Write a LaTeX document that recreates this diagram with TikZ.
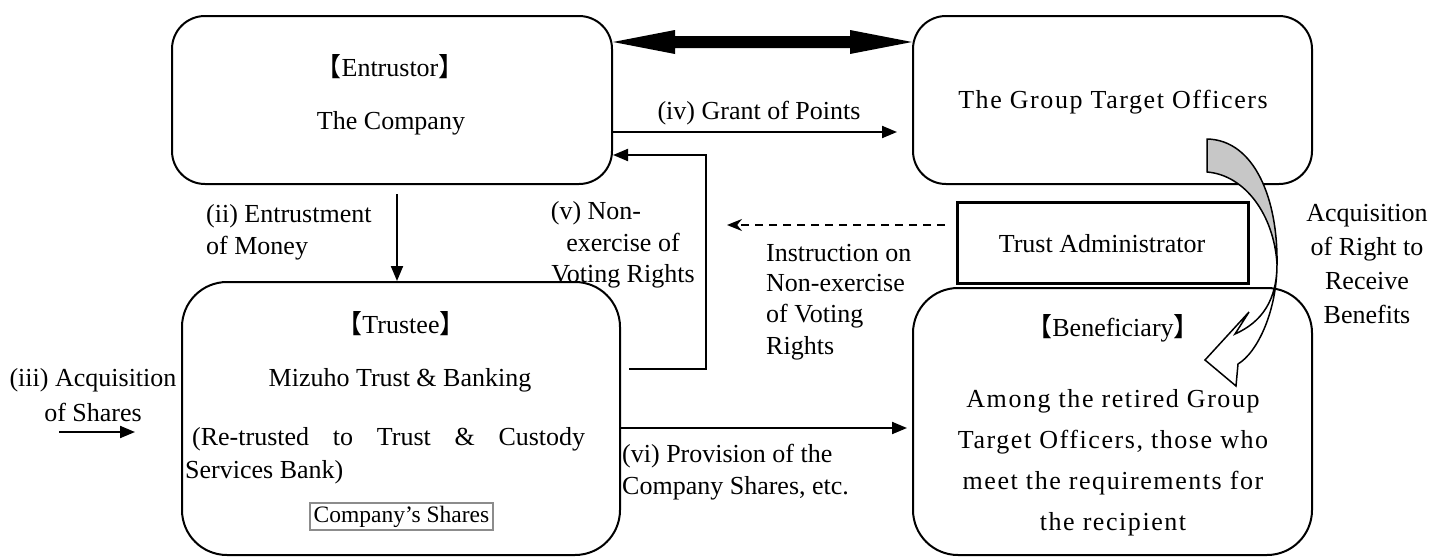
\documentclass[tikz,border=0pt]{standalone}
\usepackage{fontspec}
\setmainfont{Liberation Serif}
\newfontfamily\cjk{Noto Sans CJK JP}
\newfontfamily\spaced[LetterSpace=6]{Liberation Serif}
\usetikzlibrary{arrows.meta,calc}
\begin{document}
\begin{tikzpicture}[x=1pt,y=-1pt,
  font=\fontsize{26}{31}\selectfont,
  box/.style={draw, line width=2pt, rounded corners=33pt, inner sep=0pt},
  bigbox/.style={draw, line width=2pt, rounded corners=45pt, inner sep=0pt},
  arr/.style={line width=2pt, -{Triangle[length=15pt,width=12pt]}},
  dsh/.style={line width=2pt, dash pattern=on 8pt off 6pt, -{Stealth[length=15pt,width=12pt]}},
  lbl/.style={inner sep=0pt, anchor=base},
  lblw/.style={inner sep=0pt, anchor=base west}]
\useasboundingbox (0,0) rectangle (1432,557);

% boxes
\node[box, minimum width=440pt, minimum height=168pt] (ent) at (392,100) {};
\node[box, minimum width=399pt, minimum height=168pt] (grp) at (1112.5,100) {};
\node[bigbox, minimum width=438pt, minimum height=273pt] (tru) at (401,418.5) {};
\node[bigbox, minimum width=399pt, minimum height=267pt] (ben) at (1112.5,421.5) {};
\node[draw, line width=3pt, minimum width=291pt, minimum height=81pt, inner sep=0pt] (adm) at (1102.5,242.5) {};
\node[draw=black!45, line width=1.3pt, fill=white, minimum width=183pt, minimum height=27pt, inner sep=0pt] (shr) at (401.5,516.5) {};

% texts in boxes
\node[lbl] (t1) at (390,76) {{\cjk 【}Entrustor{\cjk 】}};
\node[lbl] (t2) at (391,129) {The Company};
\node[lbl] (t3) at (1113,108) {\spaced The Group Target Officers};
\node[lbl] (t4) at (1102,252) {Trust Administrator};
\node[lbl] (t5) at (401,333) {{\cjk 【}Trustee{\cjk 】}};
\node[lbl] (t6) at (400,386) {Mizuho Trust \& Banking};
\node[lblw] (t7) at (183,445) {\makebox[402pt][s]{\hspace*{9pt}(Re-trusted to Trust \& Custody}};
\node[lblw] (t8) at (185,478) {Services Bank)};
\node[lbl, font=\fontsize{23.5}{28}\selectfont] (t9) at (shr.center) [anchor=center] {Company’s Shares};
\node[lbl] (t10) at (1113,336) {{\cjk 【}Beneficiary{\cjk 】}};
\node[lbl] (t11) at (1113,407) {\spaced Among the retired Group};
\node[lbl] (t12) at (1113,448) {\spaced Target Officers, those who};
\node[lbl] (t13) at (1113,489) {\spaced meet the requirements for};
\node[lbl] (t14) at (1113,530) {\spaced the recipient};

% connector labels
\node[lbl] (l1) at (759,119) {(iv) Grant of Points};
\node[lblw] (l2) at (206,222) {(ii) Entrustment};
\node[lblw] (l3) at (206,254) {of Money};
\node[lbl] (l4) at (596,219) {(v) Non-};
\node[lbl] (l5) at (623,251) {exercise of};
\node[lbl] (l6) at (623,282) {Voting Rights};
\node[lblw] (l7) at (766,261) {Instruction on};
\node[lblw] (l8) at (766,291) {Non-exercise};
\node[lblw] (l9) at (766,322) {of Voting};
\node[lblw] (l10) at (766,354) {Rights};
\node[lbl] (l11) at (1367,221) {Acquisition};
\node[lbl] (l12) at (1367,255) {of Right to};
\node[lbl] (l13) at (1367,289) {Receive};
\node[lbl] (l14) at (1367,323) {Benefits};
\node[lbl] (l15) at (93,386) {(iii) Acquisition};
\node[lbl] (l16) at (93,421) {of Shares};
\node[lblw] (l17) at (622,462) {(vi) Provision of the};
\node[lblw] (l18) at (622,494) {Company Shares, etc.};

% double arrow
\coordinate (dl) at ($(ent.north east)+(0,27)$);
\coordinate (dr) at ($(grp.north west)+(0,27)$);
\fill (dl) -- ($(dl)+(62,-12)$) -- ($(dl)+(62,-6)$) -- ($(dr)+(-62,-6)$) -- ($(dr)+(-62,-12)$) -- (dr)
  -- ($(dr)+(-62,12)$) -- ($(dr)+(-62,6)$) -- ($(dl)+(62,6)$) -- ($(dl)+(62,12)$) -- cycle;

% (iv)
\coordinate (ivS) at ($(ent.north east)+(0,117)$);
\coordinate (ivE) at ($(grp.north west)+(-15,117)$);
\draw[arr] (ivS) -- (ivE);

% (ii)
\coordinate (iiS) at (397,194);
\draw[arr] (iiS) -- (iiS |- tru.north);

% (v)
\coordinate (vS) at (629,369);
\coordinate (vC) at (706,155);
\draw[arr] (vS) -| (vC) -- (ent.east |- vC);

% (vi)
\coordinate (viS) at (tru.east |- 0,428);
\coordinate (viE) at (907,428);
\draw[arr] (viS) -- (viE);

% dashed instruction
\coordinate (dS) at (945,225);
\coordinate (dE) at (727,225);
\draw[dsh] (dS) -- (dE);

% (iii)
\coordinate (iiiS) at (59,432);
\coordinate (iiiE) at (135,432);
\draw[arr] (iiiS) -- (iiiE);

% curved arrow
\filldraw[fill=black!22, line width=1.5pt, line join=round]
  (1207,139) .. controls (1255,140) and (1278,200) .. (1277,264)
  .. controls (1274,215) and (1245,175) .. (1207,172) -- cycle;
\filldraw[fill=white, line width=1.5pt, line join=miter]
  (1277,264) .. controls (1277,310) and (1258,352) .. (1238,364)
  -- (1236,386) -- (1205,360) -- (1249,312) -- (1235,334)
  .. controls (1262,322) and (1277,300) .. (1277,264) -- cycle;
\end{tikzpicture}
\end{document}
